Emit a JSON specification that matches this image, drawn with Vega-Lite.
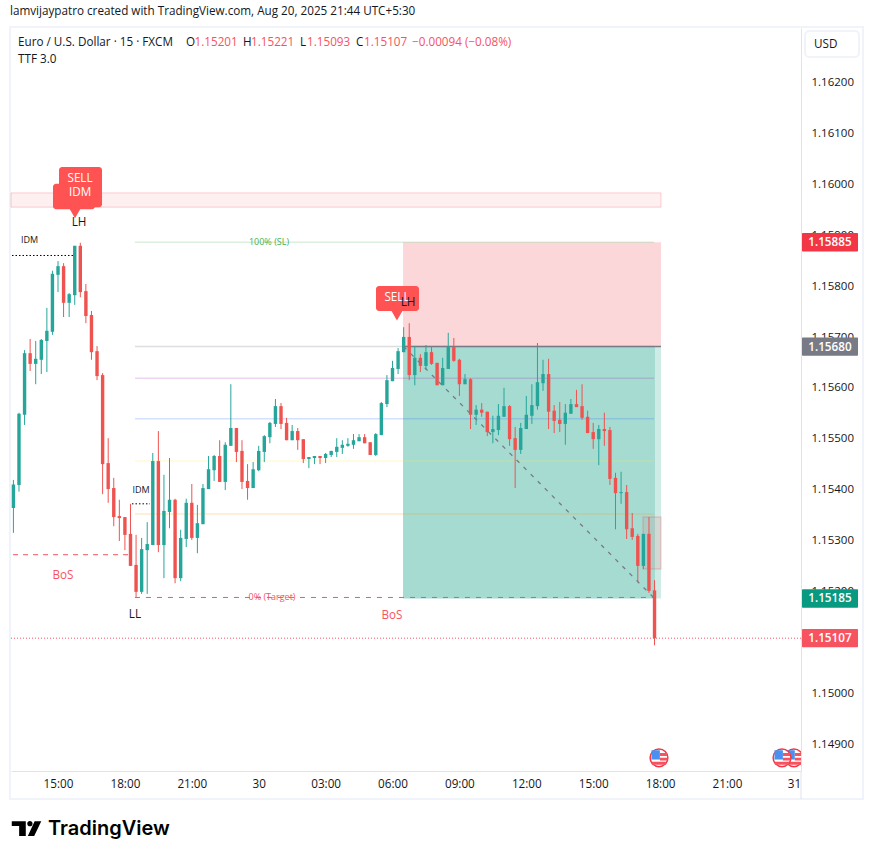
{
"$schema":"https://vega.github.io/schema/vega-lite/v6.json",
"width":790,"height":743,"autosize":{"type":"none"},
"padding":{"left":11,"top":28,"right":72,"bottom":88},
"background":"white",
"config":{"font":"Open Sans","view":{"stroke":null}},
"resolve":{"scale":{"color":"independent"}},
"title":{"text":"lamvijaypatro created with TradingView.com, Aug 20, 2025 21:44 UTC+5:30","anchor":"start","frame":"group","offset":8,"dx":-1,"fontSize":11.7,"fontWeight":"normal","color":"#131722"},
"encoding":{
"x":{"field":"t","type":"temporal","title":null,
 "scale":{"type":"utc","nice":false,"padding":0,"domain":[{"year":2025,"month":7,"date":29,"hours":12,"minutes":53,"seconds":30,"utc":true},{"year":2025,"month":7,"date":31,"hours":0,"minutes":19,"seconds":6,"utc":true}]},
 "axis":{"grid":false,"ticks":false,"domainColor":"#e0e3eb","labelColor":"#131722","labelFontSize":11.7,"labelPadding":7,"labelOverlap":false,"labelFlush":false,"title":null,
 "values":[{"year":2025,"month":7,"date":29,"hours":15,"utc":true},{"year":2025,"month":7,"date":29,"hours":18,"utc":true},{"year":2025,"month":7,"date":29,"hours":21,"utc":true},{"year":2025,"month":7,"date":30,"hours":0,"utc":true},{"year":2025,"month":7,"date":30,"hours":3,"utc":true},{"year":2025,"month":7,"date":30,"hours":6,"utc":true},{"year":2025,"month":7,"date":30,"hours":9,"utc":true},{"year":2025,"month":7,"date":30,"hours":12,"utc":true},{"year":2025,"month":7,"date":30,"hours":15,"utc":true},{"year":2025,"month":7,"date":30,"hours":18,"utc":true},{"year":2025,"month":7,"date":30,"hours":21,"utc":true},{"year":2025,"month":7,"date":31,"hours":0,"utc":true}],
 "labelExpr":"utchours(datum.value)==0 ? utcFormat(datum.value,'%-d') : utcFormat(datum.value,'%H:%M')"}},
"y":{"field":"p","type":"quantitative","title":null,
 "scale":{"domain":[1.14846,1.16306],"zero":false,"nice":false},
 "axis":{"orient":"right","grid":false,"ticks":false,"domainColor":"#e0e3eb","labelColor":"#131722","labelFontSize":11.5,"labelPadding":10,"labelOffset":0.7,"labelAlign":"left","format":".5f","title":null,"labelOverlap":false,"labelFlush":false,
 "values":[1.149,1.15,1.151,1.152,1.153,1.154,1.155,1.156,1.157,1.158,1.159,1.16,1.161,1.162]}}
},
"layer":[
{"data":{"values":[{"t":"2025-07-29T12:51:00Z","t2":"2025-07-31T03:06:00Z","p":1.16308,"p2":1.14791}],"format":{"parse":{"t":"date","t2":"date"}}},
 "mark":{"type":"rect","fill":null,"fillOpacity":0,"stroke":"#f0f3fa","strokeWidth":2},
 "encoding":{"x2":{"field":"t2"},"y2":{"field":"p2"}}},
{"data":{"values":[{"t":"2025-07-31T00:19:06Z","p":1.14846,"p2":1.14791}],"format":{"parse":{"t":"date"}}},
 "mark":{"type":"rule","color":"#e0e3eb"},
 "encoding":{"y2":{"field":"p2"}}},
{"data":{"values":[{"t":"2025-07-31T00:29:54Z","t2":"2025-07-31T02:55:12Z","p":1.163,"p2":1.16249}],"format":{"parse":{"t":"date","t2":"date"}}},
 "mark":{"type":"rect","fillOpacity":0,"fill":"white","stroke":"#f0f3fa","strokeWidth":2,"cornerRadius":4},
 "encoding":{"x2":{"field":"t2"},"y2":{"field":"p2"}}},
{"data":{"values":[{"t":"2025-07-29T12:53:30Z","t2":"2025-07-30T18:02:24Z","p":1.15982,"p2":1.15954}],"format":{"parse":{"t":"date","t2":"date"}}},
 "mark":{"type":"rect","fill":"#f23645","fillOpacity":0.08,"stroke":"#f23645","strokeOpacity":0.22,"strokeWidth":1},
 "encoding":{"x2":{"field":"t2"},"y2":{"field":"p2"}}},
{"data":{"values":[{"t":"2025-07-30T06:28:18Z","t2":"2025-07-30T18:02:24Z","p":1.15885,"p2":1.1568}],"format":{"parse":{"t":"date","t2":"date"}}},
 "mark":{"type":"rect","fill":"#f23645","fillOpacity":0.2},
 "encoding":{"x2":{"field":"t2"},"y2":{"field":"p2"}}},
{"data":{"values":[{"t":"2025-07-30T06:28:18Z","t2":"2025-07-30T18:02:24Z","p":1.1568,"p2":1.15185}],"format":{"parse":{"t":"date","t2":"date"}}},
 "mark":{"type":"rect","fill":"#089981","fillOpacity":0.2},
 "encoding":{"x2":{"field":"t2"},"y2":{"field":"p2"}}},
{"data":{"values":[{"t":"2025-07-30T06:28:18Z","t2":"2025-07-30T17:46:18Z","p":1.1568,"p2":1.15185}],"format":{"parse":{"t":"date","t2":"date"}}},
 "mark":{"type":"rect","fill":"#089981","fillOpacity":0.2},
 "encoding":{"x2":{"field":"t2"},"y2":{"field":"p2"}}},
{"data":{"values":[{"t":"2025-07-30T17:14:00Z","t2":"2025-07-30T18:02:24Z","p":1.15345,"p2":1.15243}],"format":{"parse":{"t":"date","t2":"date"}}},
 "mark":{"type":"rect","fill":"#f23645","fillOpacity":0.1,"stroke":"#f23645","strokeOpacity":0.2,"strokeWidth":1.5},
 "encoding":{"x2":{"field":"t2"},"y2":{"field":"p2"}}},
{"data":{"values":[
 {"t":"2025-07-29T18:27:00Z","t2":"2025-07-30T17:43:36Z","p":1.15885,"level":"100%"},
 {"t":"2025-07-29T18:27:00Z","t2":"2025-07-30T17:43:36Z","p":1.1568,"level":"78.6%"},
 {"t":"2025-07-29T18:27:00Z","t2":"2025-07-30T17:43:36Z","p":1.15618,"level":"70.5%"},
 {"t":"2025-07-29T18:27:00Z","t2":"2025-07-30T17:43:36Z","p":1.15538,"level":"61.8%"},
 {"t":"2025-07-29T18:27:00Z","t2":"2025-07-30T17:43:36Z","p":1.15455,"level":"50%"},
 {"t":"2025-07-29T18:27:00Z","t2":"2025-07-30T17:43:36Z","p":1.15351,"level":"38.2%"}],"format":{"parse":{"t":"date","t2":"date"}}},
 "mark":{"type":"rule"},
 "encoding":{"x2":{"field":"t2"},
 "color":{"field":"level","type":"nominal","legend":null,"scale":{"domain":["100%","78.6%","70.5%","61.8%","50%","38.2%"],"range":["rgba(76,175,80,0.2)","rgba(120,123,134,0.25)","rgba(156,39,176,0.2)","rgba(41,98,255,0.2)","rgba(255,235,59,0.2)","rgba(255,152,0,0.2)"]}},
 "strokeWidth":{"field":"level","type":"nominal","legend":null,"scale":{"domain":["100%","78.6%","70.5%","61.8%","50%","38.2%"],"range":[1.5,1.5,1.5,2.5,1.5,1.5]}}}},
{"data":{"values":[{"t":"2025-07-30T06:28:18Z","t2":"2025-07-30T18:02:24Z","p":1.1568}],"format":{"parse":{"t":"date","t2":"date"}}},
 "mark":{"type":"rule","color":"#787b86","strokeWidth":1.5},
 "encoding":{"x2":{"field":"t2"}}},
{"data":{"values":[{"t":"2025-07-29T18:27:00Z","t2":"2025-07-30T17:43:36Z","p":1.15187}],"format":{"parse":{"t":"date","t2":"date"}}},
 "mark":{"type":"rule","color":"#f7525f","strokeDash":[5,6],"strokeWidth":1},
 "encoding":{"x2":{"field":"t2"}}},
{"data":{"values":[{"t":"2025-07-29T12:59:00Z","t2":"2025-07-29T18:11:00Z","p":1.15271}],"format":{"parse":{"t":"date","t2":"date"}}},
 "mark":{"type":"rule","color":"#f7525f","strokeDash":[5,5],"strokeWidth":1},
 "encoding":{"x2":{"field":"t2"}}},
{"data":{"values":[{"t":"2025-07-29T12:56:12Z","t2":"2025-07-29T15:43:00Z","p":1.15859},{"t":"2025-07-29T18:19:00Z","t2":"2025-07-29T19:07:30Z","p":1.15371}],"format":{"parse":{"t":"date","t2":"date"}}},
 "mark":{"type":"rule","color":"#000000","strokeDash":[1.5,2],"strokeWidth":1},
 "encoding":{"x2":{"field":"t2"}}},
{"data":{"values":[{"t":"2025-07-29T12:53:30Z","t2":"2025-07-31T00:19:06Z","p":1.15107}],"format":{"parse":{"t":"date","t2":"date"}}},
 "mark":{"type":"rule","color":"#f7525f","strokeDash":[1,2],"strokeWidth":1},
 "encoding":{"x2":{"field":"t2"}}},
{"data":{"name":"candles","values":[
{"t":"2025-07-29T13:00:00Z","o":1.15363,"h":1.15418,"l":1.15314,"c":1.15409},
{"t":"2025-07-29T13:15:00Z","o":1.15408,"h":1.1555,"l":1.15395,"c":1.15548},
{"t":"2025-07-29T13:30:00Z","o":1.15546,"h":1.15673,"l":1.15526,"c":1.15667},
{"t":"2025-07-29T13:45:00Z","o":1.15667,"h":1.15695,"l":1.15632,"c":1.15646},
{"t":"2025-07-29T14:00:00Z","o":1.15646,"h":1.15691,"l":1.15606,"c":1.15656},
{"t":"2025-07-29T14:15:00Z","o":1.15654,"h":1.15695,"l":1.15626,"c":1.15693},
{"t":"2025-07-29T14:30:00Z","o":1.15691,"h":1.15756,"l":1.1563,"c":1.15711},
{"t":"2025-07-29T14:45:00Z","o":1.15709,"h":1.15829,"l":1.15703,"c":1.15823},
{"t":"2025-07-29T15:00:00Z","o":1.15821,"h":1.15848,"l":1.15787,"c":1.15838},
{"t":"2025-07-29T15:15:00Z","o":1.15838,"h":1.15844,"l":1.15738,"c":1.15766},
{"t":"2025-07-29T15:30:00Z","o":1.15766,"h":1.15785,"l":1.15738,"c":1.15783},
{"t":"2025-07-29T15:45:00Z","o":1.15781,"h":1.15878,"l":1.15762,"c":1.15878},
{"t":"2025-07-29T16:00:00Z","o":1.15878,"h":1.15884,"l":1.15777,"c":1.15787},
{"t":"2025-07-29T16:15:00Z","o":1.15789,"h":1.15803,"l":1.15726,"c":1.1574},
{"t":"2025-07-29T16:30:00Z","o":1.15742,"h":1.1575,"l":1.15654,"c":1.15669},
{"t":"2025-07-29T16:45:00Z","o":1.15671,"h":1.15681,"l":1.15614,"c":1.15622},
{"t":"2025-07-29T17:00:00Z","o":1.15624,"h":1.15628,"l":1.1539,"c":1.15449},
{"t":"2025-07-29T17:15:00Z","o":1.15451,"h":1.155,"l":1.15373,"c":1.154},
{"t":"2025-07-29T17:30:00Z","o":1.15402,"h":1.15422,"l":1.15327,"c":1.15345},
{"t":"2025-07-29T17:45:00Z","o":1.15347,"h":1.15379,"l":1.15298,"c":1.15343},
{"t":"2025-07-29T18:00:00Z","o":1.15345,"h":1.15345,"l":1.1528,"c":1.1531},
{"t":"2025-07-29T18:15:00Z","o":1.15312,"h":1.15371,"l":1.15249,"c":1.15249},
{"t":"2025-07-29T18:30:00Z","o":1.15251,"h":1.1531,"l":1.15188,"c":1.15198},
{"t":"2025-07-29T18:45:00Z","o":1.15198,"h":1.15304,"l":1.15194,"c":1.15282},
{"t":"2025-07-29T19:00:00Z","o":1.1528,"h":1.15335,"l":1.15194,"c":1.15292},
{"t":"2025-07-29T19:15:00Z","o":1.1529,"h":1.15471,"l":1.1529,"c":1.15455},
{"t":"2025-07-29T19:30:00Z","o":1.15455,"h":1.15514,"l":1.15276,"c":1.1529},
{"t":"2025-07-29T19:45:00Z","o":1.1529,"h":1.15428,"l":1.15225,"c":1.15357},
{"t":"2025-07-29T20:00:00Z","o":1.15355,"h":1.15461,"l":1.15323,"c":1.15379},
{"t":"2025-07-29T20:15:00Z","o":1.15379,"h":1.15381,"l":1.15215,"c":1.15225},
{"t":"2025-07-29T20:30:00Z","o":1.15225,"h":1.1532,"l":1.15219,"c":1.15304},
{"t":"2025-07-29T20:45:00Z","o":1.15302,"h":1.15381,"l":1.15286,"c":1.15373},
{"t":"2025-07-29T21:00:00Z","o":1.15373,"h":1.1541,"l":1.153,"c":1.15304},
{"t":"2025-07-29T21:15:00Z","o":1.15304,"h":1.15369,"l":1.15274,"c":1.15333},
{"t":"2025-07-29T21:30:00Z","o":1.15331,"h":1.1541,"l":1.15331,"c":1.15402},
{"t":"2025-07-29T21:45:00Z","o":1.154,"h":1.15465,"l":1.154,"c":1.15439},
{"t":"2025-07-29T22:00:00Z","o":1.15437,"h":1.15467,"l":1.15416,"c":1.15465},
{"t":"2025-07-29T22:15:00Z","o":1.15465,"h":1.15496,"l":1.15414,"c":1.15414},
{"t":"2025-07-29T22:30:00Z","o":1.15414,"h":1.15492,"l":1.15398,"c":1.15487},
{"t":"2025-07-29T22:45:00Z","o":1.15485,"h":1.15606,"l":1.15485,"c":1.1552},
{"t":"2025-07-29T23:00:00Z","o":1.1552,"h":1.1552,"l":1.15453,"c":1.15473},
{"t":"2025-07-29T23:15:00Z","o":1.15475,"h":1.15496,"l":1.154,"c":1.15414},
{"t":"2025-07-29T23:30:00Z","o":1.15416,"h":1.15449,"l":1.15379,"c":1.15402},
{"t":"2025-07-29T23:45:00Z","o":1.15402,"h":1.15453,"l":1.15402,"c":1.15439},
{"t":"2025-07-30T00:00:00Z","o":1.15437,"h":1.15485,"l":1.15435,"c":1.15475},
{"t":"2025-07-30T00:15:00Z","o":1.15473,"h":1.15506,"l":1.15453,"c":1.15504},
{"t":"2025-07-30T00:30:00Z","o":1.15502,"h":1.15532,"l":1.1549,"c":1.1553},
{"t":"2025-07-30T00:45:00Z","o":1.15528,"h":1.15577,"l":1.15522,"c":1.15563},
{"t":"2025-07-30T01:00:00Z","o":1.15563,"h":1.15569,"l":1.15518,"c":1.15528},
{"t":"2025-07-30T01:15:00Z","o":1.1553,"h":1.1554,"l":1.15496,"c":1.15496},
{"t":"2025-07-30T01:30:00Z","o":1.15496,"h":1.15526,"l":1.15496,"c":1.15514},
{"t":"2025-07-30T01:45:00Z","o":1.15514,"h":1.1552,"l":1.15477,"c":1.15496},
{"t":"2025-07-30T02:00:00Z","o":1.15498,"h":1.15498,"l":1.15451,"c":1.15459},
{"t":"2025-07-30T02:15:00Z","o":1.15459,"h":1.15463,"l":1.15441,"c":1.15463},
{"t":"2025-07-30T02:30:00Z","o":1.15461,"h":1.15465,"l":1.15449,"c":1.15465},
{"t":"2025-07-30T02:45:00Z","o":1.15465,"h":1.15465,"l":1.15449,"c":1.15461},
{"t":"2025-07-30T03:00:00Z","o":1.15461,"h":1.15471,"l":1.15451,"c":1.15469},
{"t":"2025-07-30T03:15:00Z","o":1.15467,"h":1.15475,"l":1.15463,"c":1.15475},
{"t":"2025-07-30T03:30:00Z","o":1.15473,"h":1.155,"l":1.15463,"c":1.15483},
{"t":"2025-07-30T03:45:00Z","o":1.15481,"h":1.15496,"l":1.15469,"c":1.15487},
{"t":"2025-07-30T04:00:00Z","o":1.15485,"h":1.155,"l":1.15483,"c":1.15489},
{"t":"2025-07-30T04:15:00Z","o":1.15487,"h":1.15508,"l":1.15479,"c":1.15496},
{"t":"2025-07-30T04:30:00Z","o":1.15494,"h":1.15508,"l":1.15494,"c":1.15502},
{"t":"2025-07-30T04:45:00Z","o":1.15502,"h":1.15508,"l":1.1549,"c":1.1549},
{"t":"2025-07-30T05:00:00Z","o":1.15492,"h":1.15492,"l":1.15467,"c":1.15467},
{"t":"2025-07-30T05:15:00Z","o":1.15467,"h":1.1551,"l":1.15465,"c":1.15508},
{"t":"2025-07-30T05:30:00Z","o":1.15506,"h":1.15571,"l":1.15506,"c":1.15569},
{"t":"2025-07-30T05:45:00Z","o":1.15567,"h":1.15624,"l":1.15561,"c":1.15614},
{"t":"2025-07-30T06:00:00Z","o":1.15612,"h":1.15652,"l":1.15612,"c":1.15638},
{"t":"2025-07-30T06:15:00Z","o":1.15636,"h":1.15677,"l":1.15626,"c":1.15671},
{"t":"2025-07-30T06:30:00Z","o":1.15669,"h":1.15718,"l":1.15669,"c":1.15699},
{"t":"2025-07-30T06:45:00Z","o":1.15699,"h":1.15726,"l":1.15614,"c":1.15624},
{"t":"2025-07-30T07:00:00Z","o":1.15624,"h":1.15681,"l":1.15604,"c":1.15658},
{"t":"2025-07-30T07:15:00Z","o":1.15658,"h":1.15665,"l":1.1563,"c":1.15642},
{"t":"2025-07-30T07:30:00Z","o":1.15642,"h":1.15683,"l":1.15634,"c":1.15669},
{"t":"2025-07-30T07:45:00Z","o":1.15669,"h":1.15681,"l":1.15644,"c":1.15646},
{"t":"2025-07-30T08:00:00Z","o":1.15648,"h":1.15648,"l":1.15604,"c":1.15604},
{"t":"2025-07-30T08:15:00Z","o":1.15604,"h":1.15658,"l":1.15604,"c":1.15638},
{"t":"2025-07-30T08:30:00Z","o":1.15636,"h":1.15707,"l":1.15636,"c":1.15679},
{"t":"2025-07-30T08:45:00Z","o":1.15679,"h":1.15697,"l":1.1565,"c":1.15652},
{"t":"2025-07-30T09:00:00Z","o":1.15654,"h":1.15656,"l":1.15583,"c":1.15606},
{"t":"2025-07-30T09:15:00Z","o":1.15606,"h":1.15626,"l":1.15606,"c":1.15616},
{"t":"2025-07-30T09:30:00Z","o":1.15616,"h":1.15618,"l":1.15518,"c":1.15546},
{"t":"2025-07-30T09:45:00Z","o":1.15546,"h":1.15565,"l":1.15526,"c":1.15556},
{"t":"2025-07-30T10:00:00Z","o":1.15556,"h":1.15569,"l":1.15542,"c":1.1555},
{"t":"2025-07-30T10:15:00Z","o":1.15552,"h":1.15552,"l":1.15504,"c":1.15512},
{"t":"2025-07-30T10:30:00Z","o":1.15512,"h":1.15544,"l":1.1549,"c":1.15518},
{"t":"2025-07-30T10:45:00Z","o":1.15516,"h":1.15567,"l":1.15506,"c":1.15544},
{"t":"2025-07-30T11:00:00Z","o":1.15542,"h":1.15599,"l":1.15542,"c":1.15563},
{"t":"2025-07-30T11:15:00Z","o":1.15563,"h":1.15565,"l":1.15485,"c":1.15498},
{"t":"2025-07-30T11:30:00Z","o":1.155,"h":1.15522,"l":1.15402,"c":1.15477},
{"t":"2025-07-30T11:45:00Z","o":1.15477,"h":1.1553,"l":1.15469,"c":1.1552},
{"t":"2025-07-30T12:00:00Z","o":1.15518,"h":1.15583,"l":1.15518,"c":1.15546},
{"t":"2025-07-30T12:15:00Z","o":1.15544,"h":1.15606,"l":1.15528,"c":1.15565},
{"t":"2025-07-30T12:30:00Z","o":1.15563,"h":1.15687,"l":1.15556,"c":1.1561},
{"t":"2025-07-30T12:45:00Z","o":1.15608,"h":1.15654,"l":1.15593,"c":1.15626},
{"t":"2025-07-30T13:00:00Z","o":1.15626,"h":1.15656,"l":1.15518,"c":1.15552},
{"t":"2025-07-30T13:15:00Z","o":1.15554,"h":1.15565,"l":1.1551,"c":1.15534},
{"t":"2025-07-30T13:30:00Z","o":1.15536,"h":1.15571,"l":1.15512,"c":1.15528},
{"t":"2025-07-30T13:45:00Z","o":1.15528,"h":1.15567,"l":1.15487,"c":1.1555},
{"t":"2025-07-30T14:00:00Z","o":1.15548,"h":1.15577,"l":1.15548,"c":1.15567},
{"t":"2025-07-30T14:15:00Z","o":1.15567,"h":1.15595,"l":1.15561,"c":1.15561},
{"t":"2025-07-30T14:30:00Z","o":1.15563,"h":1.15606,"l":1.15536,"c":1.1554},
{"t":"2025-07-30T14:45:00Z","o":1.15542,"h":1.15554,"l":1.1551,"c":1.1551},
{"t":"2025-07-30T15:00:00Z","o":1.15512,"h":1.1553,"l":1.15479,"c":1.15498},
{"t":"2025-07-30T15:15:00Z","o":1.15498,"h":1.15526,"l":1.15447,"c":1.15518},
{"t":"2025-07-30T15:30:00Z","o":1.15518,"h":1.1555,"l":1.15485,"c":1.15514},
{"t":"2025-07-30T15:45:00Z","o":1.15516,"h":1.15522,"l":1.15408,"c":1.1542},
{"t":"2025-07-30T16:00:00Z","o":1.15422,"h":1.15432,"l":1.15321,"c":1.15392},
{"t":"2025-07-30T16:15:00Z","o":1.15392,"h":1.15434,"l":1.15371,"c":1.15394},
{"t":"2025-07-30T16:30:00Z","o":1.15394,"h":1.15408,"l":1.15302,"c":1.15321},
{"t":"2025-07-30T16:45:00Z","o":1.15323,"h":1.15353,"l":1.153,"c":1.15306},
{"t":"2025-07-30T17:00:00Z","o":1.15308,"h":1.15312,"l":1.15217,"c":1.15249},
{"t":"2025-07-30T17:15:00Z","o":1.15249,"h":1.15312,"l":1.15243,"c":1.15312},
{"t":"2025-07-30T17:30:00Z","o":1.15312,"h":1.15345,"l":1.15196,"c":1.152},
{"t":"2025-07-30T17:45:00Z","o":1.15201,"h":1.15221,"l":1.15093,"c":1.15107}
],"format":{"parse":{"t":"date"}}},
 "layer":[
 {"mark":{"type":"rule","strokeWidth":1},
  "encoding":{"y":{"field":"h","type":"quantitative"},"y2":{"field":"l"},
  "color":{"condition":{"test":"datum.c>=datum.o","value":"#26a69a"},"value":"#ef5350"}}},
 {"mark":{"type":"bar","width":3.4},
  "encoding":{"y":{"field":"o","type":"quantitative"},"y2":{"field":"c"},
  "color":{"condition":{"test":"datum.c>=datum.o","value":"#26a69a"},"value":"#ef5350"}}}
 ]},
{"data":{"values":[{"t":"2025-07-30T06:30:00Z","p":1.1568},{"t":"2025-07-30T17:45:00Z","p":1.15185}],"format":{"parse":{"t":"date"}}},
 "mark":{"type":"line","color":"#787b86","strokeDash":[4,6],"strokeWidth":1.3}},
{"data":{"values":[
 {"t":"2025-07-29T15:02:41Z","t2":"2025-07-29T16:58:23Z","p":1.16033,"p2":1.15954},
 {"t":"2025-07-29T14:46:33Z","t2":"2025-07-29T16:39:33Z","p":1.16,"p2":1.1595},
 {"t":"2025-07-30T05:15:36Z","t2":"2025-07-30T07:11:18Z","p":1.15799,"p2":1.1575}],"format":{"parse":{"t":"date","t2":"date"}}},
 "mark":{"type":"rect","fill":"#ff5252","cornerRadius":3},
 "encoding":{"x2":{"field":"t2"},"y2":{"field":"p2"}}},
{"data":{"values":[{"t":"2025-07-29T15:45:45Z","p":1.15944},{"t":"2025-07-30T06:12:00Z","p":1.15743}],"format":{"parse":{"t":"date"}}},
 "mark":{"type":"point","shape":"triangle-down","filled":true,"size":190,"color":"#ff5252","opacity":1}},
{"data":{"values":[
 {"t":"2025-07-29T15:59:12Z","p":1.16011,"label":"SELL"},
 {"t":"2025-07-29T15:59:12Z","p":1.15984,"label":"IDM"},
 {"t":"2025-07-30T06:12:00Z","p":1.15777,"label":"SELL"}],"format":{"parse":{"t":"date"}}},
 "mark":{"type":"text","color":"white","fontSize":11.7,"fontWeight":500,"align":"center","baseline":"middle"},
 "encoding":{"text":{"field":"label"}}},
{"data":{"values":[
 {"t":"2025-07-29T15:56:30Z","p":1.15925,"label":"LH"},
 {"t":"2025-07-29T18:27:00Z","p":1.15155,"label":"LL"},
 {"t":"2025-07-30T06:41:42Z","p":1.15768,"label":"LH"}],"format":{"parse":{"t":"date"}}},
 "mark":{"type":"text","color":"#131722","fontSize":11.7,"align":"center","baseline":"middle"},
 "encoding":{"text":{"field":"label"}}},
{"data":{"values":[
 {"t":"2025-07-29T15:13:27Z","p":1.15231,"label":"BoS"},
 {"t":"2025-07-30T05:58:42Z","p":1.15153,"label":"BoS"}],"format":{"parse":{"t":"date"}}},
 "mark":{"type":"text","color":"#f7525f","fontSize":11.7,"align":"center","baseline":"middle"},
 "encoding":{"text":{"field":"label"}}},
{"data":{"values":[
 {"t":"2025-07-29T13:43:18Z","p":1.1589,"label":"IDM"},
 {"t":"2025-07-29T18:43:18Z","p":1.15398,"label":"IDM"}],"format":{"parse":{"t":"date"}}},
 "mark":{"type":"text","color":"#131722","fontSize":9,"align":"center","baseline":"middle"},
 "encoding":{"text":{"field":"label"}}},
{"data":{"values":[{"t":"2025-07-30T00:27:42Z","p":1.15885,"label":"100% (SL)"}],"format":{"parse":{"t":"date"}}},
 "mark":{"type":"text","color":"#4caf50","fontSize":9,"align":"center","baseline":"middle"},
 "encoding":{"text":{"field":"label"}}},
{"data":{"values":[{"t":"2025-07-30T00:35:48Z","p":1.15187,"label":"0% (Target)"}],"format":{"parse":{"t":"date"}}},
 "mark":{"type":"text","color":"#f7525f","fontSize":9,"align":"center","baseline":"middle"},
 "encoding":{"text":{"field":"label"}}},
{"data":{"values":[
 {"t":"2025-07-29T13:12:24Z","p":1.16279,"label":"Euro / U.S. Dollar · 15 · FXCM"},
 {"t":"2025-07-29T20:44:24Z","p":1.16279,"label":"O"},
 {"t":"2025-07-29T23:17:46Z","p":1.16279,"label":"H"},
 {"t":"2025-07-30T01:51:08Z","p":1.16279,"label":"L"},
 {"t":"2025-07-30T04:21:48Z","p":1.16279,"label":"C"},
 {"t":"2025-07-29T13:12:24Z","p":1.16245,"label":"TTF 3.0"},
 {"t":"2025-07-31T00:54:00Z","p":1.16275,"label":"USD"}],"format":{"parse":{"t":"date"}}},
 "mark":{"type":"text","color":"#131722","fontSize":11.7,"align":"left","baseline":"middle"},
 "encoding":{"text":{"field":"label"}}},
{"data":{"values":[
 {"t":"2025-07-29T21:07:16Z","p":1.16279,"label":"1.15201"},
 {"t":"2025-07-29T23:39:17Z","p":1.16279,"label":"1.15221"},
 {"t":"2025-07-30T02:10:00Z","p":1.16279,"label":"1.15093"},
 {"t":"2025-07-30T04:43:20Z","p":1.16279,"label":"1.15107"},
 {"t":"2025-07-30T06:52:30Z","p":1.16279,"label":"−0.00094 (−0.08%)"}],"format":{"parse":{"t":"date"}}},
 "mark":{"type":"text","color":"#f7525f","fontSize":11.7,"align":"left","baseline":"middle"},
 "encoding":{"text":{"field":"label"}}},
{"data":{"values":[
 {"t":"2025-07-31T00:00:00Z","p":1.14872,"part":"ring"},{"t":"2025-07-31T00:00:00Z","p":1.14872,"part":"canton"},{"t":"2025-07-31T00:00:00Z","p":1.14872,"part":"stripes"},
 {"t":"2025-07-30T23:28:00Z","p":1.14872,"part":"ring"},{"t":"2025-07-30T23:28:00Z","p":1.14872,"part":"canton"},{"t":"2025-07-30T23:28:00Z","p":1.14872,"part":"stripes"},
 {"t":"2025-07-30T17:57:00Z","p":1.14872,"part":"ring"},{"t":"2025-07-30T17:57:00Z","p":1.14872,"part":"canton"},{"t":"2025-07-30T17:57:00Z","p":1.14872,"part":"stripes"}],"format":{"parse":{"t":"date"}}},
 "mark":{"type":"point","filled":true,"size":314,"opacity":1,"strokeWidth":1.5,"clip":true},
 "encoding":{
 "shape":{"field":"part","type":"nominal","legend":null,"scale":{"domain":["ring","canton","stripes"],"range":["circle","M-0.85,-0.85H0.1V0.2H-0.85Z","M0.1,-0.55H0.9V-0.2H0.1Z M0.1,0H0.95V0.3H0.1Z M-0.8,0.45H0.8V0.8H-0.8Z"]}},
 "fill":{"field":"part","type":"nominal","legend":null,"scale":{"domain":["ring","canton","stripes"],"range":["#ffffff","#4a90f0","#f7525f"]}},
 "stroke":{"field":"part","type":"nominal","legend":null,"scale":{"domain":["ring","canton","stripes"],"range":["#f23645","transparent","transparent"]}}}},
{"data":{"values":[{"t":"2025-07-31T00:21:48Z","t2":"2025-07-31T02:52:30Z","p":1.15903,"p2":1.15867,"tag":"sl"},{"t":"2025-07-31T00:21:48Z","t2":"2025-07-31T02:52:30Z","p":1.15698,"p2":1.15662,"tag":"entry"},{"t":"2025-07-31T00:21:48Z","t2":"2025-07-31T02:52:30Z","p":1.15203,"p2":1.15167,"tag":"tp"},{"t":"2025-07-31T00:21:48Z","t2":"2025-07-31T02:52:30Z","p":1.15125,"p2":1.15089,"tag":"last"}],"format":{"parse":{"t":"date","t2":"date"}}},
 "mark":{"type":"rect","cornerRadius":1},
 "encoding":{"x2":{"field":"t2"},"y2":{"field":"p2"},
 "color":{"field":"tag","type":"nominal","legend":null,"scale":{"domain":["sl","entry","tp","last"],"range":["#f23645","#787b86","#089981","#f7525f"]}}}},
{"data":{"values":[{"t":"2025-07-31T01:37:00Z","p":1.15885,"label":"1.15885"},{"t":"2025-07-31T01:37:00Z","p":1.1568,"label":"1.15680"},{"t":"2025-07-31T01:37:00Z","p":1.15185,"label":"1.15185"},{"t":"2025-07-31T01:37:00Z","p":1.15107,"label":"1.15107"}],"format":{"parse":{"t":"date"}}},
 "mark":{"type":"text","color":"white","fontSize":11.7,"fontWeight":600,"align":"center","baseline":"middle"},
 "encoding":{"text":{"field":"label"}}},
{"data":{"values":[{"t":"2025-07-29T13:35:15Z","p":1.14733}],"format":{"parse":{"t":"date"}}},
 "mark":{"type":"point","filled":true,"size":870,"color":"#000000","opacity":1,"shape":"M-1,-0.5H-0.05V0.5H-0.5V-0.17H-1Z M0.05,-0.33A0.18,0.18 0 1 0 0.41,-0.33A0.18,0.18 0 1 0 0.05,-0.33Z M0.55,-0.5H1L0.52,0.5H0.09Z"}},
{"data":{"values":[{"t":"2025-07-29T14:33:00Z","p":1.14732,"label":"TradingView"}],"format":{"parse":{"t":"date"}}},
 "mark":{"type":"text","font":"Inter","color":"#000000","fontSize":20,"fontWeight":600,"align":"left","baseline":"middle"},
 "encoding":{"text":{"field":"label"}}}
]}
